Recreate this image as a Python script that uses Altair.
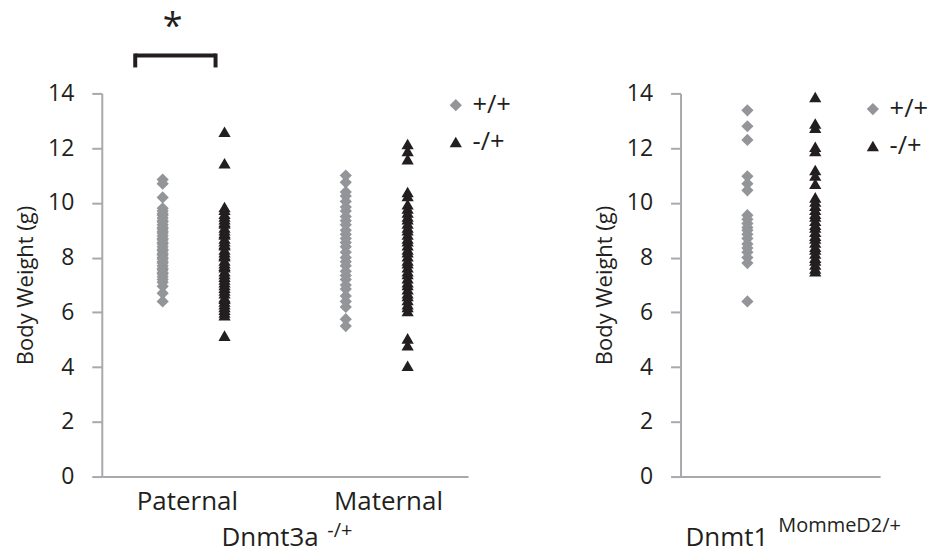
import altair as alt
import pandas as pd

genotypes = ["+/+", "-/+"]
origins = ["Paternal", "Maternal"]

# Dnmt3a -/+ : paternal transmission
pat_wt = [10.85, 10.7, 10.2, 9.8, 9.7, 9.6, 9.55, 9.45, 9.35, 9.3, 9.2, 9.1, 9.05,
          8.95, 8.9, 8.8, 8.7, 8.65, 8.55, 8.5, 8.4, 8.3, 8.25, 8.15, 8.1, 8.0,
          7.95, 7.85, 7.8, 7.7, 7.6, 7.55, 7.45, 7.4, 7.3, 7.2, 7.1, 6.95, 6.7, 6.4]
pat_het = [12.6, 11.45, 9.85, 9.75, 9.6, 9.5, 9.4, 9.3, 9.25, 9.1, 9.0, 8.9, 8.85,
           8.7, 8.6, 8.5, 8.45, 8.3, 8.2, 8.1, 8.05, 7.9, 7.8, 7.7, 7.65, 7.5, 7.4,
           7.3, 7.2, 7.1, 7.0, 6.9, 6.8, 6.7, 6.55, 6.5, 6.4, 6.3, 6.2, 6.1, 6.0,
           5.9, 5.15]
# Dnmt3a -/+ : maternal transmission
mat_wt = [11.0, 10.75, 10.4, 10.25, 10.05, 9.85, 9.7, 9.5, 9.35, 9.2, 9.0, 8.85,
          8.7, 8.55, 8.4, 8.2, 8.0, 7.85, 7.7, 7.5, 7.35, 7.2, 7.0, 6.85, 6.6, 6.4,
          6.2, 5.75, 5.5]
mat_het = [12.15, 11.9, 11.6, 10.4, 10.25, 9.95, 9.8, 9.65, 9.5, 9.4, 9.25, 9.1,
           9.0, 8.85, 8.7, 8.6, 8.45, 8.3, 8.2, 8.05, 7.9, 7.8, 7.65, 7.5, 7.4,
           7.25, 7.1, 7.0, 6.85, 6.7, 6.6, 6.45, 6.3, 6.2, 6.05, 5.05, 4.8, 4.05]
# Dnmt1 MommeD2/+
d1_wt = [13.38, 12.8, 12.3, 10.97, 10.7, 10.46, 9.55, 9.4, 9.25, 9.1, 9.0, 8.85,
         8.7, 8.5, 8.35, 8.2, 8.0, 7.8, 6.4]
d1_het = [13.87, 12.9, 12.75, 12.05, 11.9, 11.2, 11.0, 10.7, 10.2, 10.05, 9.9,
          9.75, 9.6, 9.5, 9.35, 9.2, 9.1, 8.95, 8.8, 8.7, 8.55, 8.4, 8.3, 8.15,
          8.0, 7.9, 7.75, 7.6, 7.5]

y_ticks = [0, 2, 4, 6, 8, 10, 12, 14]


def frame(values, origin, geno):
    return pd.DataFrame({"origin": origin, "genotype": geno, "weight": values})


left_df = pd.concat([frame(pat_wt, "Paternal", "+/+"), frame(pat_het, "Paternal", "-/+"),
                     frame(mat_wt, "Maternal", "+/+"), frame(mat_het, "Maternal", "-/+")])
right_df = pd.concat([frame(d1_wt, "Dnmt1", "+/+"), frame(d1_het, "Dnmt1", "-/+")])

FONT = "Open Sans"
GRAY = "#939598"
BLACK = "#231F20"
AXIS = "#A7A9AC"

color_scale = alt.Scale(domain=genotypes, range=[GRAY, BLACK])
shape_scale = alt.Scale(domain=genotypes, range=["diamond", "triangle-up"])


def y_enc():
    return alt.Y("weight:Q",
                 scale=alt.Scale(domain=[0, 14], nice=False, zero=True),
                 axis=alt.Axis(values=y_ticks, title="Body Weight (g)", grid=False,
                               tickSize=10, tickColor=AXIS, tickWidth=2,
                               domainColor=AXIS, domainWidth=2,
                               labelFont=FONT, labelFontSize=23, labelColor=BLACK,
                               labelPadding=18,
                               titleFont=FONT, titleFontSize=22, titleFontWeight="normal",
                               titleColor=BLACK, titlePadding=10))


def legend(x, y):
    return alt.Legend(title=None, orient="none", legendX=x, legendY=y, padding=0,
                      labelFont=FONT, labelFontSize=25.5, labelColor=BLACK,
                      symbolSize=150, rowPadding=10, labelOffset=4,
                      symbolStrokeWidth=0)


def points(df, x_domain, x_axis, offset_range, lx, ly):
    return alt.Chart(df).mark_point(filled=True, size=150, opacity=1).encode(
        x=alt.X("origin:N", sort=x_domain,
                scale=alt.Scale(domain=x_domain, paddingInner=0, paddingOuter=0),
                axis=x_axis),
        xOffset=alt.XOffset("genotype:N",
                            scale=alt.Scale(type="point", domain=genotypes,
                                            range=offset_range, padding=0)),
        y=y_enc(),
        color=alt.Color("genotype:N", scale=color_scale, legend=legend(lx, ly)),
        shape=alt.Shape("genotype:N", scale=shape_scale, legend=legend(lx, ly)),
    )


one = pd.DataFrame({"k": [0]})


def label(text, x, y, size, align="left", baseline="alphabetic"):
    return alt.Chart(one).mark_text(text=text, font=FONT, fontSize=size, color=BLACK,
                                    align=align, baseline=baseline).encode(
        x=alt.value(x), y=alt.value(y))


def rule(x, x2, y, y2):
    return alt.Chart(one).mark_rule(color=BLACK, strokeWidth=4).encode(
        x=alt.value(x), x2=alt.value(x2), y=alt.value(y), y2=alt.value(y2))


left_axis = alt.Axis(title=None, ticks=False, domainColor=AXIS, domainWidth=2,
                     labelFont=FONT, labelFontSize=26, labelColor=BLACK,
                     labelPadding=12, labelAngle=0,
                     labelOffset={"condition": {"test": "datum.value === 'Maternal'",
                                                "value": 12},
                                  "value": -6})
right_axis = alt.Axis(title=None, ticks=False, labels=False, domainColor=AXIS,
                      domainWidth=2)

left = alt.layer(
    points(left_df, origins, left_axis, [61, 123], 342, -1),
    label("Dnmt3a", 120, 453.5, 26),
    label("-/+", 226, 445, 20),
    label("*", 71, -56, 36, align="center"),
    rule(33.5, 114, -38, -38),
    rule(33.5, 33.5, -40, -26),
    rule(114, 114, -40, -26),
).properties(width=367, height=384)

right = alt.layer(
    points(right_df, ["Dnmt1"], right_axis, [67, 135], 180, 3),
    label("Dnmt1", 5, 453.5, 26),
    label("MommeD2/+", 98, 440, 20),
).properties(width=200, height=384)

chart = alt.hconcat(left, right, spacing=213, bounds="flush").resolve_scale(
    color="independent", shape="independent", x="independent", y="independent",
    xOffset="independent"
).configure_view(strokeWidth=0).properties(
    padding={"left": 6, "top": 0, "right": 0, "bottom": 0}
)

chart.save("out.html", embed_options={"renderer": "svg", "actions": False})
